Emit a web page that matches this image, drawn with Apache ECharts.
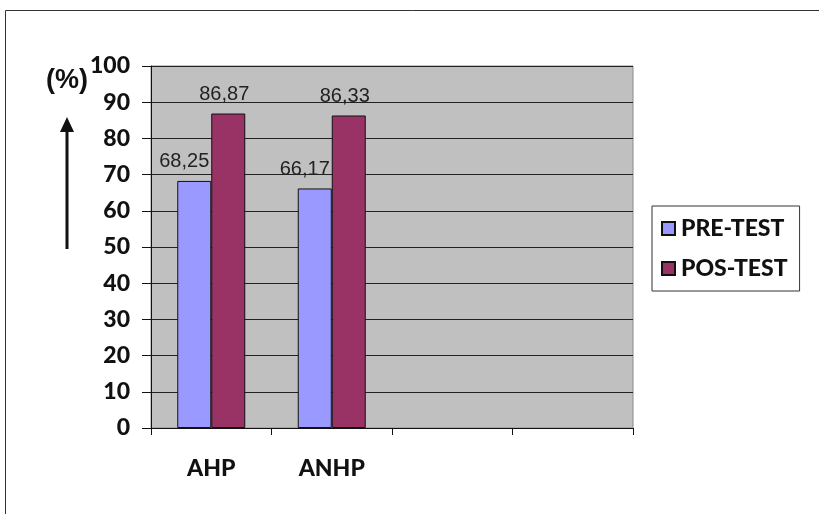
<!DOCTYPE html>
<html>
<head>
<meta charset="utf-8">
<script src="https://cdn.jsdelivr.net/npm/echarts@6/dist/echarts.min.js"></script>
<style>
  html, body { margin: 0; padding: 0; background: #fff; }
  #chart { width: 819px; height: 514px; }
</style>
</head>
<body>
<div id="chart"></div>
<script>
// Groups along the x axis (the last two slots are left empty)
const categories = ['AHP', 'ANHP', '', ''];
// Percentage scores per group
const preTest = [68.25, 66.17, null, null];
const posTest = [86.87, 86.33, null, null];
const seriesNames = ['PRE-TEST', 'POS-TEST'];
const yTicks = { min: 0, max: 100, step: 10 };

const boldFont = 'Lato, "Open Sans", "Liberation Sans", sans-serif';
const heavy = 900;
const valueFont = '"Liberation Sans", Arial, sans-serif';

const fmt = v => v.value == null ? '' : v.value.toFixed(2).replace('.', ',');

function valueLabel(dx) {
  return {
    show: true,
    position: 'top',
    offset: [dx, 0],
    distance: 9,
    color: '#222',
    fontFamily: valueFont,
    fontSize: 20,
    formatter: fmt
  };
}

const chart = echarts.init(document.getElementById('chart'), null, { renderer: 'canvas' });
chart.setOption({
  animation: false,
  backgroundColor: '#fff',
  grid: {
    left: 151, right: 186, top: 66, bottom: 86,
    show: true, backgroundColor: '#c0c0c0', borderColor: '#8a8a8a', borderWidth: 1
  },
  legend: {
    orient: 'vertical',
    left: 652, top: 206,
    padding: [11, 12, 11, 9],
    itemGap: 17,
    itemWidth: 13, itemHeight: 13,
    borderColor: '#333', borderWidth: 1,
    icon: 'rect',
    textStyle: { fontFamily: boldFont, fontWeight: heavy, fontSize: 23, lineHeight: 23, color: '#111', padding: [0, 0, 0, 1] },
    data: seriesNames
  },
  xAxis: {
    type: 'category',
    data: categories,
    axisLine: { lineStyle: { color: '#111', width: 1 } },
    axisTick: { show: true, length: 7, lineStyle: { color: '#111' } },
    axisLabel: { margin: 29, fontFamily: boldFont, fontWeight: heavy, fontSize: 23, color: '#111' },
    splitLine: { show: false }
  },
  yAxis: {
    type: 'value',
    min: yTicks.min, max: yTicks.max, interval: yTicks.step,
    axisLine: { show: true, lineStyle: { color: '#111', width: 1 } },
    axisTick: { show: true, length: 9, lineStyle: { color: '#111' } },
    axisLabel: { margin: 21, fontFamily: boldFont, fontWeight: heavy, fontSize: 23, color: '#111' },
    splitLine: { show: true, lineStyle: { color: '#222', width: 1 } }
  },
  series: [
    {
      name: seriesNames[0], type: 'bar', data: preTest,
      barWidth: 34, barGap: '0%',
      itemStyle: { color: '#9999ff', borderColor: '#111', borderWidth: 1 },
      label: valueLabel(-10)
    },
    {
      name: seriesNames[1], type: 'bar', data: posTest,
      barWidth: 34, barGap: '0%',
      itemStyle: { color: '#993366', borderColor: '#111', borderWidth: 1 },
      label: valueLabel(-4)
    }
  ],
  graphic: [
    // outer frame (left and top edges)
    { type: 'polyline', shape: { points: [[5.5, 514], [5.5, 10.5], [819, 10.5]] },
      style: { stroke: '#333', lineWidth: 1, fill: null } },
    // unit label and upward arrow beside the y axis
    { type: 'text', left: 46, top: 67,
      style: { text: '(%)', fontFamily: valueFont, fontSize: 27, fontWeight: 'bold', fill: '#111' } },
    { type: 'line', shape: { x1: 67, y1: 128, x2: 67, y2: 249 },
      style: { stroke: '#111', lineWidth: 3 } },
    { type: 'polygon', shape: { points: [[67, 117], [60, 132], [74, 132]] },
      style: { fill: '#111' } }
  ]
});
</script>
</body>
</html>
